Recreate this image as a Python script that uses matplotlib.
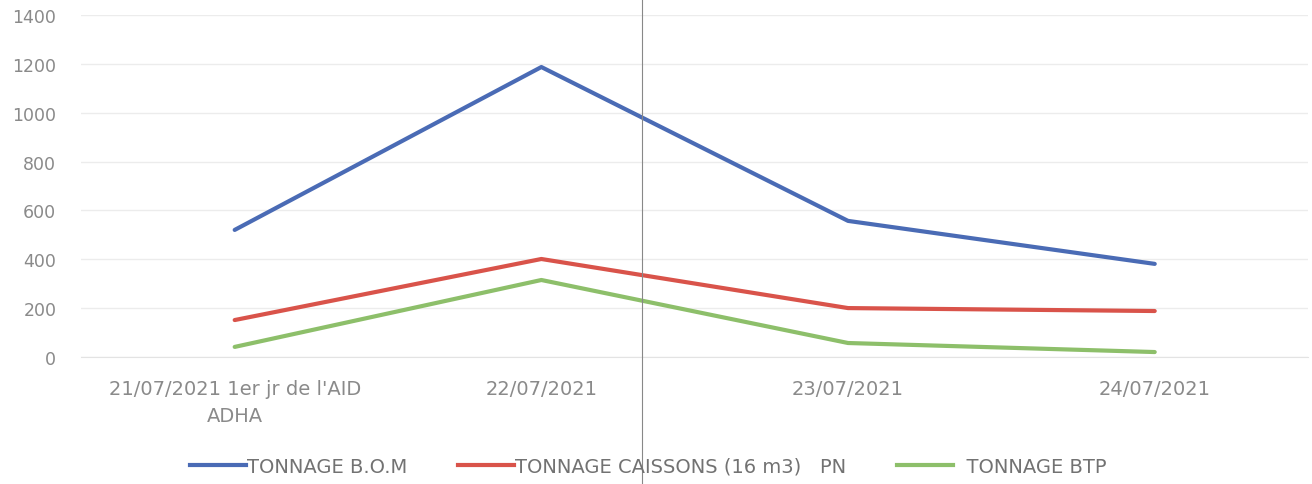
import matplotlib
matplotlib.use("Agg")
import matplotlib.pyplot as plt
from matplotlib.lines import Line2D

categories = ["21/07/2021 1er jr de l'AID\nADHA", "22/07/2021", "23/07/2021", "24/07/2021"]
bom = [520, 1187, 557, 381]
caissons = [151, 401, 200, 188]
btp = [41, 315, 57, 20]
series_names = ["TONNAGE B.O.M", "TONNAGE CAISSONS (16 m3)   PN", "  TONNAGE BTP"]
yticks = [0, 200, 400, 600, 800, 1000, 1200, 1400]

plt.rcParams['font.family'] = ['DejaVu Sans']

fig = plt.figure(figsize=(13.12, 4.85), dpi=100)
ax = fig.add_axes([0.062, 0.262, 0.935, 0.705])

x = list(range(len(categories)))
colors = ["#4a6bb5", "#d9534a", "#8dbf6a"]
for vals, c, n in zip([bom, caissons, btp], colors, series_names):
    ax.plot(x, vals, color=c, lw=3.0, label=n, solid_capstyle='round', solid_joinstyle='round')

ax.set_xlim(-0.5, len(categories) - 0.5)
ax.set_ylim(0, 1400)
ax.set_yticks(yticks)
ax.set_yticklabels([str(v) for v in yticks])
ax.set_xticks(x)
ax.grid(axis='y', color='#ececec', lw=1)
ax.set_axisbelow(True)
for s in ['top', 'right', 'left']:
    ax.spines[s].set_visible(False)
ax.spines['bottom'].set_color('#e3e3e3')
ax.tick_params(axis='both', length=0, colors='#8a8a8a')
ax.tick_params(axis='y', pad=18, labelsize=12.5)
ax.tick_params(axis='x', pad=16, labelsize=14)
ax.set_xticklabels(categories, linespacing=1.55, fontsize=14)

handles = [Line2D([0], [0], color=c, lw=3.0) for c in colors]
fig.legend(handles, series_names, loc='center', bbox_to_anchor=(0.494, 0.037), ncol=3,
           frameon=False, fontsize=14, labelcolor='#727272', handlelength=2.9,
           handletextpad=0.05, columnspacing=2.6)

fig.add_artist(Line2D([0.4895, 0.4895], [0, 1], transform=fig.transFigure, color='#888888', lw=0.8))

fig.savefig("out.png", dpi=100, facecolor='white')
